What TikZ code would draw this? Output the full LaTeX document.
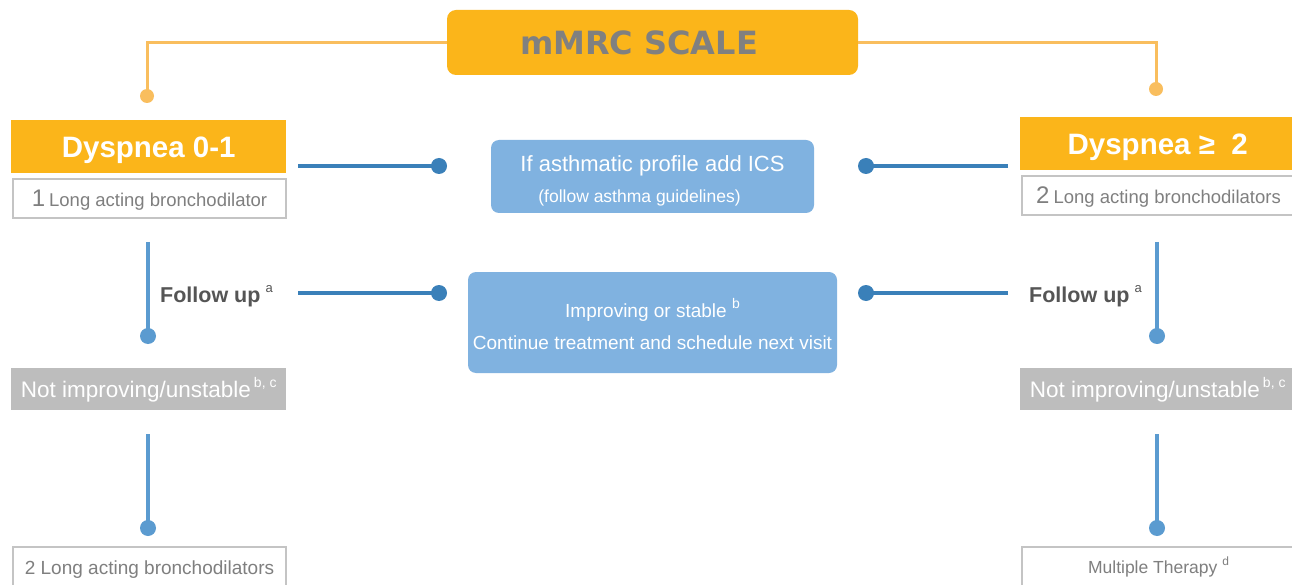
\documentclass[tikz,border=0pt]{standalone}
\usepackage{fontspec}
\setmainfont{Liberation Sans}
\newfontfamily\titlefont{DejaVu Sans}
\definecolor{orfill}{HTML}{FBB51A}
\definecolor{orline}{HTML}{F9BE5E}
\definecolor{titlegray}{HTML}{808080}
\definecolor{dblue}{HTML}{3A80B9}
\definecolor{lblue}{HTML}{5B9BD0}
\definecolor{bluebox}{HTML}{80B2E0}
\definecolor{graybox}{HTML}{BDBDBD}
\definecolor{bordgray}{HTML}{C4C4C4}
\definecolor{fugray}{HTML}{555555}
\definecolor{subgray}{HTML}{7F7F7F}
\newcommand{\fs}[1]{\fontsize{#1}{#1}\selectfont}
\newcommand{\sups}[2]{\raisebox{0.45em}{\fs{#1}#2}}
\begin{document}
\begin{tikzpicture}[x=1pt,y=-1pt,
  titlebox/.style={fill=orfill, rounded corners=9pt, minimum width=411pt, minimum height=65pt, inner sep=0pt},
  dysbox/.style={fill=orfill, text=white, minimum width=275pt, minimum height=53pt, inner sep=0pt, font=\fs{29.5}\bfseries, text height=21.5pt, text depth=0pt},
  subbox/.style={draw=bordgray, line width=2pt, fill=white, text=subgray, minimum width=273pt, minimum height=39pt, inner sep=0pt, text height=17pt, text depth=0pt},
  botbox/.style={subbox, minimum height=41pt, text height=13.5pt},
  notbox/.style={fill=graybox, text=white, minimum width=275pt, minimum height=42pt, inner sep=0pt, font=\fs{22.5}, text height=16pt, text depth=0pt},
  bluebx/.style={fill=bluebox, rounded corners=8pt, inner sep=0pt},
  btext/.style={text=white, inner sep=0pt, anchor=base},
  oline/.style={draw=orline, line width=3pt},
  odot/.style={circle, fill=orline, minimum size=14pt, inner sep=0pt},
  dline/.style={draw=dblue, line width=4pt},
  ddot/.style={circle, fill=dblue, minimum size=16pt, inner sep=0pt},
  lline/.style={draw=lblue, line width=4pt},
  ldot/.style={circle, fill=lblue, minimum size=16pt, inner sep=0pt},
  fulabel/.style={text=fugray, font=\fs{21.5}\bfseries, inner sep=0pt}
]
\clip (0,0) rectangle (1292,585);
\fill[white] (0,0) rectangle (1292,585);

% title
\node[titlebox] (title) at (652.5,42.5) {};
\node[inner sep=0pt, anchor=base, text=titlegray] (titletext) at (639,55) {\titlefont\fs{32}\bfseries mMRC SCALE};

% orange connectors
\node[odot] (od1) at (147,96) {};
\node[odot] (od2) at (1156,89) {};
\draw[oline] (title.west) -| (od1.center);
\draw[oline] (title.east) -| (od2.center);

% left column
\node[dysbox, anchor=north west] (dys1) at (11,120) {Dyspnea 0-1};
\node[subbox, anchor=north west] (sub1) at (12,178) {{\fs{24}1}\hspace{4pt}{\fs{18.5}Long acting bronchodilator}};
\node[notbox, anchor=north west] (not1) at (11,368) {Not improving/unstable\hspace{3pt}\sups{14}{b, c}};
\node[botbox, anchor=north west] (bot1) at (12,546) {\fs{19}2 Long acting bronchodilators};

% right column
\node[dysbox, anchor=north west] (dys2) at (1020,117) {Dyspnea ≥\ \ 2};
\node[subbox, anchor=north west] (sub2) at (1021,175) {{\fs{24}2}\hspace{4pt}{\fs{18.5}Long acting bronchodilators}};
\node[notbox, anchor=north west] (not2) at (1020,368) {Not improving/unstable\hspace{3pt}\sups{14}{b, c}};
\node[botbox, anchor=north west, text height=12.5pt] (bot2) at (1021,546) {\fs{17.5}Multiple Therapy \sups{12}{d}};

% centre boxes
\node[bluebx, minimum width=323pt, minimum height=73pt] (ics) at (652.5,176.5) {};
\node[btext] (ics1) at (652.5,172) {\fs{22}If asthmatic profile add ICS};
\node[btext] (ics2) at (639.5,203) {\fs{17.5}(follow asthma guidelines)};
\node[bluebx, minimum width=369pt, minimum height=101pt] (stable) at (652.5,322.5) {};
\node[btext] (st1) at (652.5,317) {\fs{19}Improving or stable \sups{14}{b}};
\node[btext] (st2) at (652.5,349) {\fs{19}Continue treatment and schedule next visit};

% blue horizontal connectors
\coordinate (h1s) at (298,166);
\node[ddot] (h1e) at (439,166) {};
\draw[dline] (h1s) -- (h1e.center);
\coordinate (h2s) at (1008,166);
\node[ddot] (h2e) at (866,166) {};
\draw[dline] (h2s) -- (h2e.center);
\coordinate (h3s) at (298,293);
\node[ddot] (h3e) at (439,293) {};
\draw[dline] (h3s) -- (h3e.center);
\coordinate (h4s) at (1008,293);
\node[ddot] (h4e) at (866,293) {};
\draw[dline] (h4s) -- (h4e.center);

% vertical connectors
\coordinate (v1s) at (148,242);
\node[ldot] (v1e) at (148,336) {};
\draw[lline] (v1s) -- (v1e.center);
\coordinate (v2s) at (148,434);
\node[ldot] (v2e) at (148,528) {};
\draw[lline] (v2s) -- (v2e.center);
\coordinate (v3s) at (1157,242);
\node[ldot] (v3e) at (1157,336) {};
\draw[lline] (v3s) -- (v3e.center);
\coordinate (v4s) at (1157,434);
\node[ldot] (v4e) at (1157,528) {};
\draw[lline] (v4s) -- (v4e.center);

% follow up labels
\node[fulabel, anchor=base west] (fu1) at (160,302) {Follow up\hspace{5pt}\sups{13}{\mdseries a}};
\node[fulabel, anchor=base west] (fu2) at (1029,302) {Follow up\hspace{5pt}\sups{13}{\mdseries a}};
\end{tikzpicture}
\end{document}
